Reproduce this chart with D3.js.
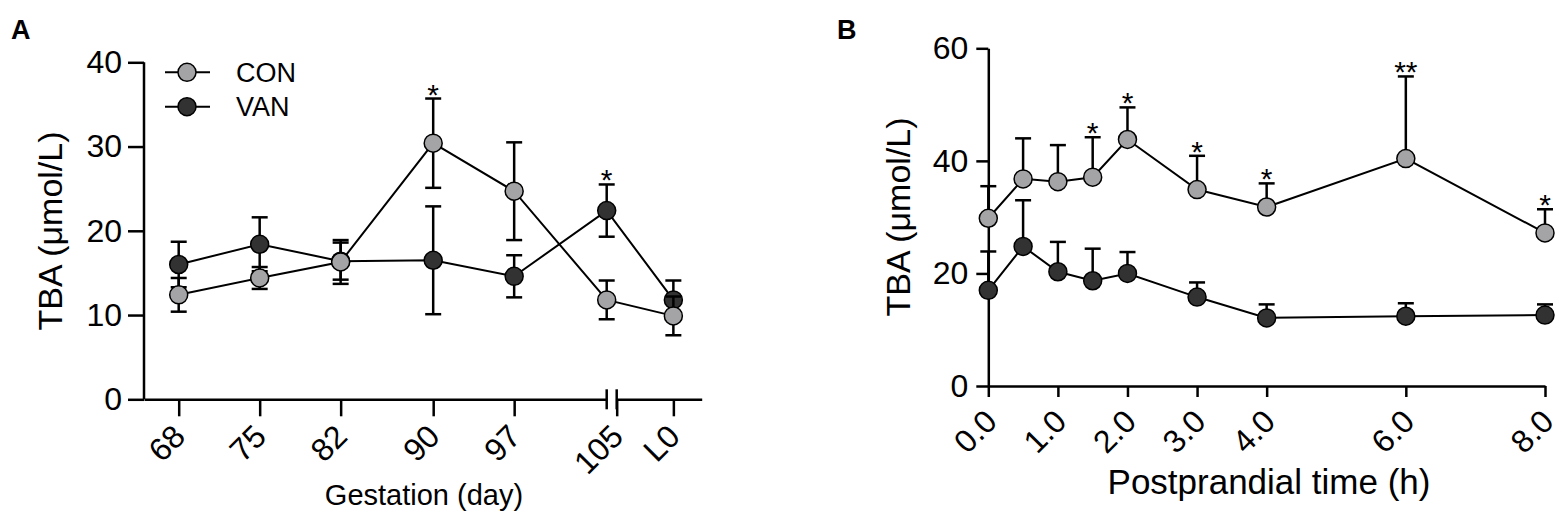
<!DOCTYPE html>
<html>
<head>
<meta charset="utf-8">
<script src="https://cdn.jsdelivr.net/npm/d3@7"></script>
<style>
  html, body { margin: 0; padding: 0; background: #fff; }
  svg { display: block; }
  text { font-family: "Liberation Sans", Arial, sans-serif; fill: #000; }
</style>
</head>
<body>
<svg id="chart" width="1562" height="517"></svg>
<script>
// ---------- Panel A data ----------
const gestLabels = ["68", "75", "82", "90", "97", "105", "L0"];
const gestDays   = [68, 75, 82, 90, 97, 105, 110]; // L0 sits after the axis break
const conA    = [12.4, 14.4, 16.3, 30.4, 24.7, 11.8, 9.9];
const conAErr = [2.0, 1.3, 2.6, 5.3, 5.8, 2.3, 2.3];
const vanA    = [16.0, 18.4, 16.4, 16.5, 14.6, 22.4, 11.8];
const vanAErr = [2.7, 3.2, 2.2, 6.4, 2.5, 3.1, 2.3];
const starsAcon = ["", "", "", "*", "", "", ""];
const starsAvan = ["", "", "", "", "", "*", ""];
const yTicksA = [0, 10, 20, 30, 40];

// ---------- Panel B data ----------
const timeH   = [0, 0.5, 1, 1.5, 2, 3, 4, 6, 8];
const timeTicks = [0, 1, 2, 3, 4, 6, 8];
const conB    = [29.8, 36.8, 36.3, 37.1, 43.8, 34.9, 31.8, 40.4, 27.2];
const conBErr = [5.7, 7.2, 6.5, 7.1, 5.7, 6.0, 4.2, 14.6, 4.2];
const vanB    = [17.0, 24.8, 20.3, 18.7, 20.0, 15.8, 12.1, 12.4, 12.6];
const vanBErr = [6.9, 8.2, 5.3, 5.7, 3.8, 2.6, 2.4, 2.3, 1.9];
const starsB  = ["", "", "", "*", "*", "*", "*", "**", "*"];
const yTicksB = [0, 20, 40, 60];

const seriesNames = ["CON", "VAN"];
const colors = { CON: "#a4a4a7", VAN: "#323232" };

const svg = d3.select("#chart");
const R = 9, CAP = 8;
const TICK_FS = 32;

function styleAxis(g, tickFontSize) {
  g.selectAll("path.domain").attr("stroke", "#000").attr("stroke-width", 2.5);
  g.selectAll(".tick line").attr("stroke", "#000").attr("stroke-width", 2.5);
  g.selectAll(".tick text").style("font-size", tickFontSize + "px").attr("fill", "#000");
}

// ================= PANEL A =================
const yA = d3.scaleLinear().domain([0, 40]).range([399.3, 62.3]);
const xA1 = d3.scaleLinear().domain([65, 105]).range([144, 606.7]);
const xA2 = d3.scaleLinear().domain([105, 112.5]).range([616.7, 701.7]);
const xA = (d, i) => gestLabels[i] === "L0" ? xA2(d) : xA1(d);
const labelOf = d => gestLabels[gestDays.indexOf(d)];

// y axis
const gyA = svg.append("g").attr("transform", `translate(${xA1.range()[0]},0)`)
  .call(d3.axisLeft(yA).tickValues(yTicksA).tickSize(16).tickSizeOuter(0).tickPadding(6));
gyA.select("path.domain").attr("d", `M0,${yA(0)}V${yA(40)}`);
styleAxis(gyA, TICK_FS);

// x axis segment 1
const gxA1 = svg.append("g").attr("transform", `translate(0,${yA(0)})`)
  .call(d3.axisBottom(xA1).tickValues(gestDays.slice(0, 5)).tickSize(17).tickSizeOuter(0).tickFormat(labelOf));
styleAxis(gxA1, TICK_FS);
// x axis segment 2 (after break)
const gxA2 = svg.append("g").attr("transform", `translate(0,${yA(0)})`)
  .call(d3.axisBottom(xA2).tickValues([105, 110]).tickSize(17).tickSizeOuter(0).tickFormat(labelOf));
styleAxis(gxA2, TICK_FS);
[gxA1, gxA2].forEach(g => g.selectAll(".tick text")
  .attr("y", null).attr("dy", null).attr("x", null)
  .attr("text-anchor", "end")
  .attr("transform", "translate(8,39) rotate(-45)"));
// break marks
svg.append("g").selectAll("line").data([xA1.range()[1], xA2.range()[0]]).join("line")
  .attr("x1", d => d).attr("x2", d => d)
  .attr("y1", yA(0) - 10).attr("y2", yA(0) + 10)
  .attr("stroke", "#000").attr("stroke-width", 2.5);

function drawSeries(g, xs, vals, errs, xFn, yS, fill, twoSided) {
  const pts = vals.map((v, i) => ({ x: xFn(xs[i], i), y: yS(v), hi: yS(v + errs[i]), lo: yS(v - errs[i]) }));
  const eb = g.append("g").attr("stroke", "#000").attr("stroke-width", 2.5).attr("fill", "none");
  pts.forEach(p => {
    eb.append("line").attr("x1", p.x).attr("x2", p.x).attr("y1", p.hi).attr("y2", twoSided ? p.lo : p.y);
    eb.append("line").attr("x1", p.x - CAP).attr("x2", p.x + CAP).attr("y1", p.hi).attr("y2", p.hi);
    if (twoSided) eb.append("line").attr("x1", p.x - CAP).attr("x2", p.x + CAP).attr("y1", p.lo).attr("y2", p.lo);
  });
  g.append("path").datum(pts)
    .attr("d", d3.line().x(p => p.x).y(p => p.y))
    .attr("fill", "none").attr("stroke", "#000").attr("stroke-width", 2);
  g.append("g").selectAll("circle").data(pts).join("circle")
    .attr("cx", p => p.x).attr("cy", p => p.y).attr("r", R)
    .attr("fill", fill).attr("stroke", "#000").attr("stroke-width", 1.5);
  return pts;
}

function drawStars(g, pts, stars) {
  g.append("g").selectAll("text").data(pts.map((p, i) => ({ p, s: stars[i] })).filter(d => d.s))
    .join("text")
    .attr("x", d => d.p.x).attr("y", d => d.p.hi + 6)
    .attr("text-anchor", "middle").style("font-size", "30px")
    .text(d => d.s);
}

const gA = svg.append("g");
const vanAPts = drawSeries(gA, gestDays, vanA, vanAErr, xA, yA, colors.VAN, true);
const conAPts = drawSeries(gA, gestDays, conA, conAErr, xA, yA, colors.CON, true);
drawStars(gA, conAPts, starsAcon);
drawStars(gA, vanAPts, starsAvan);

// legend
const leg = svg.append("g");
seriesNames.forEach((name, i) => {
  const cy = 72.3 + i * 34.4;
  leg.append("line").attr("x1", 165).attr("x2", 210).attr("y1", cy).attr("y2", cy)
    .attr("stroke", "#000").attr("stroke-width", 2);
  leg.append("circle").attr("cx", 187).attr("cy", cy).attr("r", R)
    .attr("fill", colors[name]).attr("stroke", "#000").attr("stroke-width", 1.5);
  leg.append("text").attr("x", 236).attr("y", cy).attr("dy", "0.36em")
    .style("font-size", "27px").text(name);
});

// titles A
svg.append("text").attr("transform", `translate(62,231) rotate(-90)`)
  .attr("text-anchor", "middle").style("font-size", "34px").text("TBA (μmol/L)");
svg.append("text").attr("x", 424).attr("y", 505)
  .attr("text-anchor", "middle").style("font-size", "29px").text("Gestation (day)");
svg.append("text").attr("x", 11).attr("y", 39)
  .style("font-size", "27px").style("font-weight", "bold").text("A");

// ================= PANEL B =================
const yB = d3.scaleLinear().domain([0, 60]).range([386, 48.3]);
const xB = d3.scaleLinear().domain([0, 8]).range([988.3, 1545]);

const gyB = svg.append("g").attr("transform", `translate(${xB(0)},0)`)
  .call(d3.axisLeft(yB).tickValues(yTicksB).tickSize(12).tickSizeOuter(0).tickPadding(8));
styleAxis(gyB, TICK_FS);
const gxB = svg.append("g").attr("transform", `translate(0,${yB(0)})`)
  .call(d3.axisBottom(xB).tickValues(timeTicks).tickSize(11).tickSizeOuter(0).tickFormat(d3.format(".1f")));
styleAxis(gxB, TICK_FS);
gxB.selectAll(".tick text")
  .attr("y", null).attr("dy", null).attr("x", null)
  .attr("text-anchor", "end")
  .attr("transform", "translate(10,37.5) rotate(-45)");

const gB = svg.append("g");
const vanBPts = drawSeries(gB, timeH, vanB, vanBErr, d => xB(d), yB, colors.VAN, false);
const conBPts = drawSeries(gB, timeH, conB, conBErr, d => xB(d), yB, colors.CON, false);
drawStars(gB, conBPts, starsB);

svg.append("text").attr("transform", `translate(910,217) rotate(-90)`)
  .attr("text-anchor", "middle").style("font-size", "34px").text("TBA (μmol/L)");
svg.append("text").attr("x", 1269).attr("y", 494)
  .attr("text-anchor", "middle").style("font-size", "35px").text("Postprandial time (h)");
svg.append("text").attr("x", 837).attr("y", 39)
  .style("font-size", "27px").style("font-weight", "bold").text("B");
</script>
</body>
</html>
